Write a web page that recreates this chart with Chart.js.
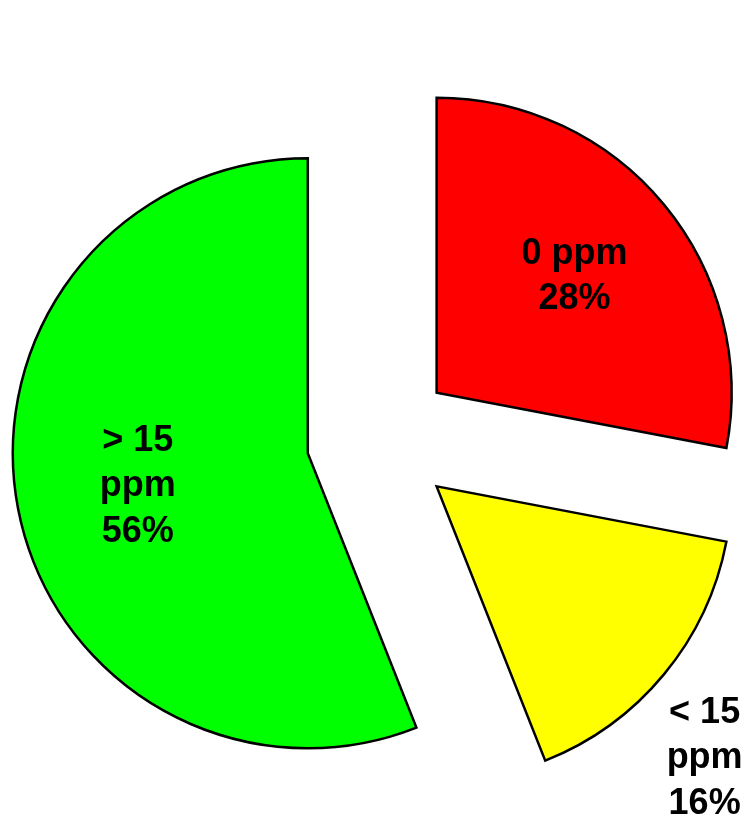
<!DOCTYPE html>
<html>
<head>
<meta charset="utf-8">
<script src="https://cdn.jsdelivr.net/npm/chart.js@4/dist/chart.umd.min.js"></script>
<style>
  html, body { margin: 0; padding: 0; background: #ffffff; }
  #wrap { width: 750px; height: 821px; }
</style>
</head>
<body>
<div id="wrap"><canvas id="c" width="750" height="821"></canvas></div>
<script>
// Sulfur content classes and their share of samples
const categories = ['0 ppm', '< 15 ppm', '> 15 ppm'];
const labelLines = [['0 ppm'], ['< 15', 'ppm'], ['> 15', 'ppm']];
const shares = [28, 16, 56];
const sliceColors = ['#ff0000', '#ffff00', '#00ff00'];

// distance every slice is pulled out from the centre (px)
const explode = 73.5;

// An arc that is shifted outwards along its bisector as a whole,
// keeping its radius and its angles unchanged.
class ExplodedArc extends Chart.ArcElement {
  static id = 'explodedArc';
  draw(ctx, area) {
    const mid = (this.startAngle + this.endAngle) / 2;
    ctx.save();
    ctx.translate(Math.cos(mid) * explode, Math.sin(mid) * explode);
    super.draw(ctx, area);
    ctx.restore();
  }
}

class ExplodedPie extends Chart.PieController {
  static id = 'explodedPie';
  static defaults = {
    ...Chart.PieController.defaults,
    dataElementType: 'explodedArc',
    cutout: 0,
    rotation: 0,
    circumference: 360
  };
}

Chart.register(ExplodedArc, ExplodedPie);

// writes the class name and percentage on (or next to) each slice
const sliceLabels = {
  id: 'sliceLabels',
  afterDatasetsDraw(chart, args, opts) {
    const meta = chart.getDatasetMeta(0);
    const ctx = chart.ctx;
    ctx.save();
    ctx.font = opts.font;
    ctx.fillStyle = '#000000';
    ctx.textAlign = 'center';
    ctx.textBaseline = 'alphabetic';
    meta.data.forEach((arc, i) => {
      const { x, y, startAngle, endAngle, outerRadius } =
        arc.getProps(['x', 'y', 'startAngle', 'endAngle', 'outerRadius'], true);
      const mid = (startAngle + endAngle) / 2;
      const vx = x + Math.cos(mid) * explode;
      const vy = y + Math.sin(mid) * explode;
      const p = opts.place[i];
      const a = mid + p.turn * Math.PI / 180;
      const ax = vx + Math.cos(a) * outerRadius * p.radius;
      const ay = vy + Math.sin(a) * outerRadius * p.radius;
      const lines = [...labelLines[i], shares[i] + '%'];
      lines.forEach((t, k) => {
        ctx.fillText(t, ax, ay + (k - (lines.length - 1) / 2) * opts.lineHeight + opts.capHalf);
      });
    });
    ctx.restore();
  }
};

new Chart(document.getElementById('c'), {
  type: 'explodedPie',
  data: {
    labels: categories,
    datasets: [{
      data: shares,
      backgroundColor: sliceColors,
      borderColor: '#000000',
      borderWidth: 2.5,
      borderJoinStyle: 'miter',
      offset: 0
    }]
  },
  options: {
    responsive: false,
    animation: false,
    events: [],
    radius: 295,
    layout: { padding: { left: 10, right: 0, top: 58, bottom: 0 } },
    plugins: {
      legend: { display: false },
      tooltip: { enabled: false },
      sliceLabels: {
        font: 'bold 36px "Liberation Sans", Arial, sans-serif',
        lineHeight: 45.5,
        capHalf: 12.9,
        place: [
          { radius: 0.617, turn: -1.2 },
          { radius: 1.287, turn: 5.5 },
          { radius: 0.585, turn: 0.8 }
        ]
      }
    }
  },
  plugins: [sliceLabels]
});
</script>
</body>
</html>
